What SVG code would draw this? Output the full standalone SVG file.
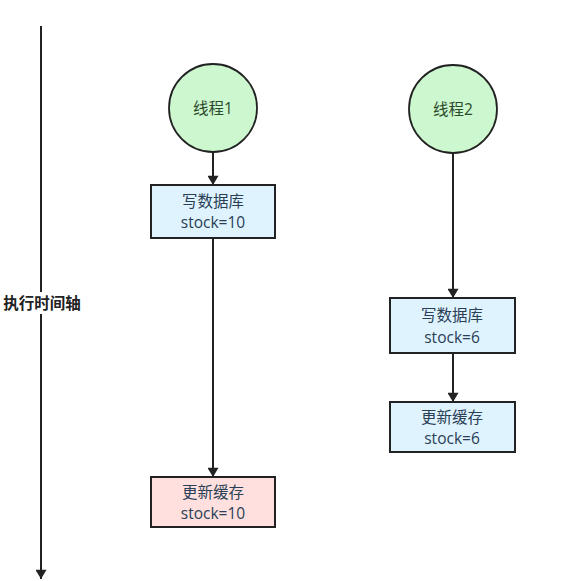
<svg xmlns="http://www.w3.org/2000/svg" width="575" height="581" viewBox="0 0 575 581">
<defs>
<marker id="ah" viewBox="0 0 10 12" refX="10" refY="6" markerWidth="12" markerHeight="11" markerUnits="userSpaceOnUse" orient="auto">
<path d="M0,0 L10,6 L0,12 Z" fill="#222"/>
</marker>
</defs>
<style>
.c{fill:#cdf7cf;stroke:#222;stroke-width:1.8}
.b{fill:#dff3ff;stroke:#222;stroke-width:2}
.r{fill:#ffe0de;stroke:#222;stroke-width:2}
.t{font-family:"Open Sans","Noto Sans CJK SC",sans-serif;font-size:15.5px;text-anchor:middle;fill:#2a3e55}
.ct{font-family:"Open Sans","Noto Sans CJK SC",sans-serif;font-size:15.5px;text-anchor:middle;fill:#2c4a2c}
.l{stroke:#222;stroke-width:2;fill:none}
</style>
<rect width="575" height="581" fill="#ffffff"/>
<g id="connectors">
<line class="l" x1="41" y1="26" x2="41" y2="579" marker-end="url(#ah)"/>
<line class="l" x1="213" y1="152" x2="213" y2="185" marker-end="url(#ah)"/>
<line class="l" x1="213" y1="238" x2="213" y2="477" marker-end="url(#ah)"/>
<line class="l" x1="453" y1="153" x2="453" y2="298" marker-end="url(#ah)"/>
<line class="l" x1="453" y1="353" x2="453" y2="402" marker-end="url(#ah)"/>
</g>
<g id="axis-label">
<rect x="2" y="292" width="80" height="22" fill="#ffffff"/>
<text x="42" y="309" font-family="'Noto Sans CJK SC',sans-serif" font-size="15.5" font-weight="bold" text-anchor="middle" fill="#222">执行时间轴</text>
</g>
<g id="thread1">
<circle class="c" cx="213" cy="108" r="44"/>
<text class="ct" x="213" y="114">线程1</text>
</g>
<g id="thread2">
<circle class="c" cx="453" cy="109" r="44"/>
<text class="ct" x="453" y="115">线程2</text>
</g>
<g id="db1">
<rect class="b" x="151" y="185" width="124" height="53"/>
<text class="t" x="213" y="207">写数据库</text>
<text class="t" x="213" y="228">stock=10</text>
</g>
<g id="cache1">
<rect class="r" x="151" y="477" width="124" height="50"/>
<text class="t" x="213" y="498">更新缓存</text>
<text class="t" x="213" y="519">stock=10</text>
</g>
<g id="db2">
<rect class="b" x="390" y="298" width="125" height="55"/>
<text class="t" x="452" y="321">写数据库</text>
<text class="t" x="452" y="343">stock=6</text>
</g>
<g id="cache2">
<rect class="b" x="390" y="402" width="125" height="50"/>
<text class="t" x="452" y="423">更新缓存</text>
<text class="t" x="452" y="444">stock=6</text>
</g>
</svg>
